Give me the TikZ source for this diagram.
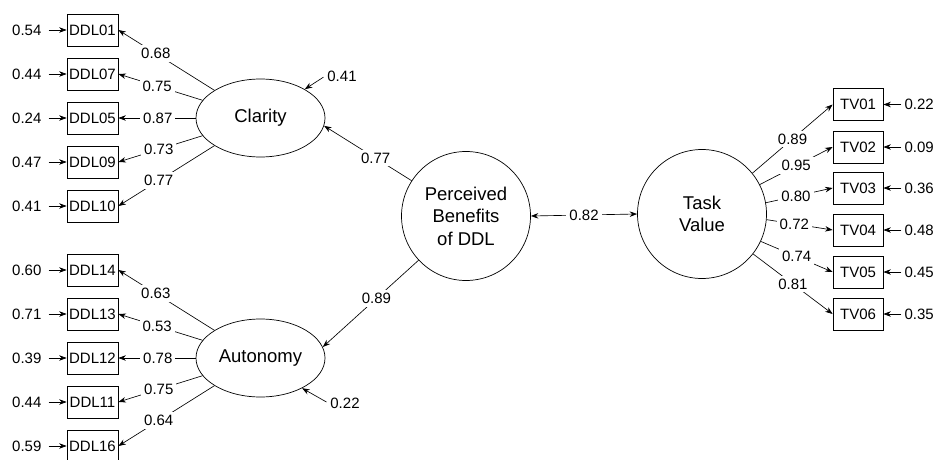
\documentclass[tikz,border=0pt]{standalone}
\usepackage{fontspec}
\setmainfont{Liberation Sans}
\usetikzlibrary{shapes.geometric,arrows.meta}
\begin{document}
\begin{tikzpicture}[x=1pt,y=-1pt,
  font=\fontsize{15}{18}\selectfont,
  obs/.style={draw, line width=0.75pt, minimum width=51pt, minimum height=32pt, inner sep=0pt},
  tvbox/.style={obs, minimum width=50pt},
  lat/.style={draw, ellipse, line width=0.7pt, minimum width=129pt, minimum height=78pt, inner sep=0pt, font=\fontsize{18.5}{22.5}\selectfont},
  circ/.style={draw, circle, line width=0.7pt, minimum size=129pt, inner sep=0pt, align=center, font=\fontsize{18.5}{22.5}\selectfont},
  arr/.style={line width=0.65pt, -{Stealth[length=7.5pt,width=5.5pt]}},
  dbl/.style={line width=0.65pt, {Stealth[length=7.5pt,width=5.5pt]}-{Stealth[length=7.5pt,width=5.5pt]}},
  lbl/.style={fill=white, inner sep=3pt},
  err/.style={inner sep=2pt}]
\useasboundingbox (0,0) rectangle (934,460);

% latent variables
\node[lat] (clar) at (260.5,118) {Clarity};
\node[lat] (auto) at (260.5,358) {Autonomy};
\node[circ] (pb) at (466,216) {Perceived\\Benefits\\of DDL};
\node[circ] (tv) at (702,214) {Task\\Value};

% DDL boxes
\node[obs] (d01) at (92.5,30) {DDL01};
\node[obs] (d07) at (92.5,74) {DDL07};
\node[obs] (d05) at (92.5,118) {DDL05};
\node[obs] (d09) at (92.5,162) {DDL09};
\node[obs] (d10) at (92.5,206) {DDL10};
\node[obs] (d14) at (92.5,270) {DDL14};
\node[obs] (d13) at (92.5,314) {DDL13};
\node[obs] (d12) at (92.5,358) {DDL12};
\node[obs] (d11) at (92.5,402) {DDL11};
\node[obs] (d16) at (92.5,446) {DDL16};

% TV boxes
\node[tvbox] (t1) at (858,104.5) {TV01};
\node[tvbox] (t2) at (858,147) {TV02};
\node[tvbox] (t3) at (858,188) {TV03};
\node[tvbox] (t4) at (858,230) {TV04};
\node[tvbox] (t5) at (858,272) {TV05};
\node[tvbox] (t6) at (858,314) {TV06};

% left error terms
\foreach \b/\v in {d01/0.54,d07/0.44,d05/0.24,d09/0.47,d10/0.41,d14/0.60,d13/0.71,d12/0.39,d11/0.44,d16/0.59}{
  \node[err, anchor=east] (e\b) at ([xshift=-23pt]\b.west) {\v};
  \draw[arr, shorten <=5pt] (e\b.east) -- (\b.west);
}
% right error terms
\foreach \b/\v in {t1/0.22,t2/0.09,t3/0.36,t4/0.48,t5/0.45,t6/0.35}{
  \node[err, anchor=west] (e\b) at ([xshift=19pt]\b.east) {\v};
  \draw[arr, shorten <=1pt] (e\b.west) -- (\b.east);
}

% Clarity loadings
\draw[arr] (clar.149) -- node[lbl,pos=0.61]{0.68} (d01.east);
\draw[arr] (clar.163) -- node[lbl,pos=0.54]{0.75} (d07.east);
\draw[arr] (clar.180) -- node[lbl,pos=0.49]{0.87} (d05.east);
\draw[arr] (clar.197) -- node[lbl,pos=0.52]{0.73} (d09.east);
\draw[arr] (clar.211) -- node[lbl,pos=0.58]{0.77} (d10.east);

% Autonomy loadings
\draw[arr] (auto.149) -- node[lbl,pos=0.61]{0.63} (d14.east);
\draw[arr] (auto.163) -- node[lbl,pos=0.54]{0.53} (d13.east);
\draw[arr] (auto.180) -- node[lbl,pos=0.49]{0.78} (d12.east);
\draw[arr] (auto.197) -- node[lbl,pos=0.52]{0.75} (d11.east);
\draw[arr] (auto.211) -- node[lbl,pos=0.58]{0.64} (d16.east);

% Task Value loadings
\draw[arr] (tv.39) -- node[lbl,pos=0.5]{0.89} (t1.west);
\draw[arr] (tv.27) -- node[lbl,pos=0.5]{0.95} (t2.west);
\draw[arr] (tv.10) -- node[lbl,pos=0.45]{0.80} (t3.west);
\draw[arr] (tv.-5) -- node[lbl,pos=0.42]{0.72} (t4.west);
\draw[arr] (tv.-25) -- node[lbl,pos=0.5]{0.74} (t5.west);
\draw[arr] (tv.-38) -- node[lbl,pos=0.5]{0.81} (t6.west);

% structural paths
\draw[arr] (pb.147) -- node[lbl,pos=0.41]{0.77} (clar.-7);
\draw[arr] (pb.223) -- node[lbl,pos=0.44]{0.89} (auto.10);
\draw[dbl] (pb.east) -- node[lbl]{0.82} (tv.west);

% latent disturbances
\node[err] (eclar) at (342,76) {0.41};
\draw[arr, shorten <=2pt] (eclar.west) -- (clar.33);
\node[err] (eauto) at (345,403) {0.22};
\draw[arr, shorten <=2pt] (eauto.west) -- (auto.-36);
\end{tikzpicture}
\end{document}
